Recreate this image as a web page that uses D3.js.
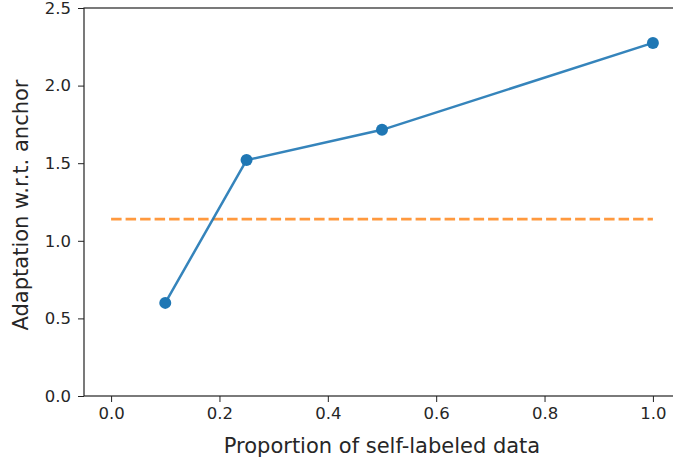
<!DOCTYPE html>
<html>
<head>
<meta charset="utf-8">
<script src="https://cdn.jsdelivr.net/npm/d3@7"></script>
<style>
  body { margin: 0; background: #fff; }
  text { font-family: "DejaVu Sans", sans-serif; fill: #262626; }
</style>
</head>
<body>
<div id="chart"></div>
<script>
const proportions = [0.1, 0.25, 0.5, 1.0];
const adaptation = [0.6, 1.52, 1.715, 2.275];
const anchorLevel = 1.14;
const anchorRange = [0.0, 1.0];
const xTicks = [0.0, 0.2, 0.4, 0.6, 0.8, 1.0];
const yTicks = [0.0, 0.5, 1.0, 1.5, 2.0, 2.5];

const W = 673, H = 459;
const margin = { top: 8, right: -7, bottom: 63, left: 84 };
const width = W - margin.left - margin.right;
const height = H - margin.top - margin.bottom;

const svg = d3.select("#chart")
  .append("svg")
  .attr("width", W)
  .attr("height", H)
  .append("g")
  .attr("transform", `translate(${margin.left},${margin.top})`);

const x = d3.scaleLinear().domain([-0.05, 1.05]).range([0, width]);
const y = d3.scaleLinear().domain([0, 2.5]).range([height, 0]);

// spines
svg.append("rect")
  .attr("x", 0).attr("y", 0)
  .attr("width", width).attr("height", height)
  .attr("fill", "none")
  .attr("stroke", "#222")
  .attr("stroke-width", 1.2);

const xAxis = svg.append("g")
  .attr("transform", `translate(0,${height})`)
  .call(d3.axisBottom(x).tickValues(xTicks).tickFormat(d3.format(".1f")).tickSize(6).tickPadding(5));
xAxis.select(".domain").remove();
xAxis.selectAll("text").style("font-size", "16.5px").attr("fill", "#262626");
xAxis.selectAll("line").attr("stroke", "#222");

const yAxis = svg.append("g")
  .call(d3.axisLeft(y).tickValues(yTicks).tickFormat(d3.format(".1f")).tickSize(6).tickPadding(7));
yAxis.select(".domain").remove();
yAxis.selectAll("text").style("font-size", "16.5px").attr("fill", "#262626");
yAxis.selectAll("line").attr("stroke", "#222");

// anchor line
svg.append("line")
  .attr("x1", x(anchorRange[0])).attr("x2", x(anchorRange[1]))
  .attr("y1", y(anchorLevel)).attr("y2", y(anchorLevel))
  .attr("stroke", "#ff7f0e")
  .attr("stroke-opacity", 0.8)
  .attr("stroke-width", 2.8)
  .attr("stroke-dasharray", "10.5,4");

const pts = proportions.map((p, i) => ({ p, v: adaptation[i] }));

svg.append("path")
  .datum(pts)
  .attr("fill", "none")
  .attr("stroke", "#1f77b4")
  .attr("stroke-opacity", 0.9)
  .attr("stroke-width", 2.5)
  .attr("d", d3.line().x(d => x(d.p)).y(d => y(d.v)));

svg.selectAll(".pt")
  .data(pts)
  .enter().append("circle")
  .attr("cx", d => x(d.p))
  .attr("cy", d => y(d.v))
  .attr("r", 6)
  .attr("fill", "#1f77b4");

svg.append("text")
  .attr("x", x(0.5))
  .attr("y", height + 57)
  .attr("text-anchor", "middle")
  .style("font-size", "21px")
  .text("Proportion of self-labeled data");

svg.append("text")
  .attr("transform", "rotate(-90)")
  .attr("x", -(y(1.25) + 3))
  .attr("y", -56)
  .attr("text-anchor", "middle")
  .style("font-size", "21px")
  .text("Adaptation w.r.t. anchor");
</script>
</body>
</html>
